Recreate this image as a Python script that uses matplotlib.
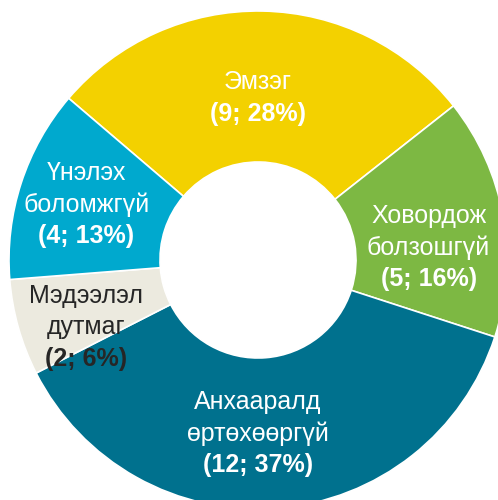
import matplotlib
matplotlib.use('Agg')
import matplotlib.pyplot as plt

# Data
names = ['Эмзэг', 'Ховордож\nболзошгүй', 'Анхааралд\nөртөхөөргүй', 'Мэдээлэл\nдутмаг', 'Үнэлэх\nболомжгүй']
counts = [9, 5, 12, 2, 4]
percents = [28, 16, 37, 6, 13]

colors = ['#F3D100', '#7DB843', '#00718E', '#ECEADF', '#00A9CE']
text_colors = ['white', 'white', 'white', '#262626', 'white']
# label centres in data units (pie radius = 1)
label_pos = [(0.0, 0.66), (0.685, 0.06), (0.0, -0.687), (-0.69, -0.261), (-0.69, 0.233)]

plt.rcParams['font.family'] = ['Liberation Sans', 'DejaVu Sans']

fig = plt.figure(figsize=(4.98, 5.0), dpi=100)
ax = fig.add_axes([0, 0, 1, 1])
scale = 249.0  # pixels per unit radius
cx, cy = 258.0, 260.0

ax.pie(counts, colors=colors, startangle=139.5, counterclock=False, radius=1.0,
       wedgeprops=dict(width=1 - 98 / scale, edgecolor='white', linewidth=1.2))

ax.set_xlim(-cx / scale, (498 - cx) / scale)
ax.set_ylim(-(500 - cy) / scale, cy / scale)
ax.set_aspect('auto')
ax.axis('off')

step = 31.5 / scale
for name, n, p, (x, y), tc in zip(names, counts, percents, label_pos, text_colors):
    lines = name.split('\n')
    total = len(lines) + 1
    top = y + (total - 1) / 2 * step
    for i, line in enumerate(lines):
        ax.text(x, top - i * step, line, ha='center', va='center_baseline',
                fontsize=18, color=tc)
    ax.text(x, top - len(lines) * step, f'({n}; {p}%)', ha='center', va='center_baseline',
            fontsize=18, color=tc, fontweight='bold')

fig.savefig('out.png', dpi=100)
